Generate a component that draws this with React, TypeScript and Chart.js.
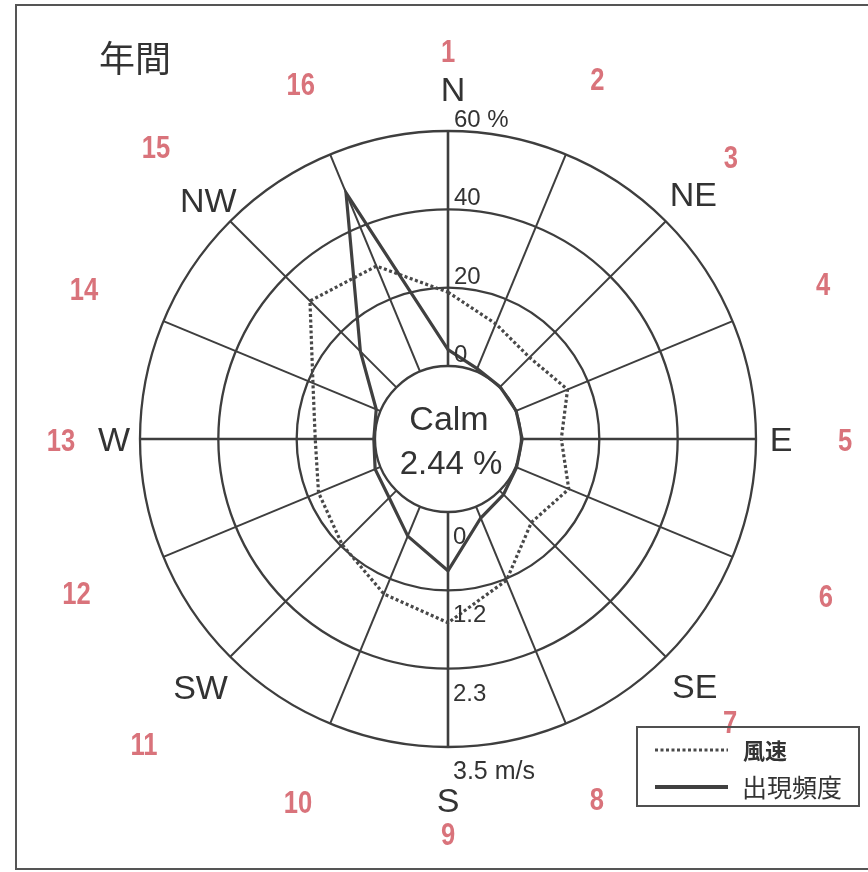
import React, { useEffect, useRef } from 'react';
import { Chart, registerables } from 'chart.js';

Chart.register(...registerables);

// ---- data ----
const directions = ['N', 'NNE', 'NE', 'ENE', 'E', 'ESE', 'SE', 'SSE', 'S', 'SSW', 'SW', 'WSW', 'W', 'WNW', 'NW', 'NNW'];
const directionNumbers = ['1', '2', '3', '4', '5', '6', '7', '8', '9', '10', '11', '12', '13', '14', '15', '16'];
const compassLabels = ['N', '', 'NE', '', 'E', '', 'SE', '', 'S', '', 'SW', '', 'W', '', 'NW', ''];
const windSpeed = [1.1, 0.77, 0.63, 0.84, 0.6, 0.86, 0.67, 1.19, 1.65, 1.41, 1.14, 1.0, 0.89, 1.09, 1.82, 1.7];
const frequency = [4.2, 0.8, 0.2, 0.2, 0.3, 0.3, 1.4, 3.2, 15.0, 8.2, 2.6, 1.5, 0.3, 1.2, 13.0, 49.4];
const freqTicks = [0, 20, 40, 60];
const freqTickLabels = ['0', '20', '40', '60 %'];
const speedTicks = [0, 1.1667, 2.3333, 3.5];
const speedTickLabels = ['0', '1.2', '2.3', '3.5 m/s'];
const calmLabel = 'Calm';
const calmValue = '2.44 %';
const titleText = '年間';
const legendLabels = ['風速', '出現頻度'];

// calm circle occupies this fraction of the radius
const CALM_RATIO = 73 / 308;
const freqMax = freqTicks[freqTicks.length - 1];
const speedMax = speedTicks[speedTicks.length - 1];
const freqMin = -freqMax * CALM_RATIO / (1 - CALM_RATIO);
const speedMin = -speedMax * CALM_RATIO / (1 - CALM_RATIO);

const SANS = "'Liberation Sans', Arial, sans-serif";
const CJK = "'Noto Sans CJK JP', 'Noto Sans CJK SC', sans-serif";
const INK = '#333333';
const GRID = '#3e3e3e';
const RED = '#d9737b';

const decorPlugin = {
  id: 'decor',
  beforeDatasetsDraw(chart: any) {
    const ctx = chart.ctx;
    const r = chart.scales.r;
    ctx.save();
    ctx.strokeStyle = GRID;
    for (let i = 0; i < directions.length; i++) {
      const a = r.getPointPositionForValue(i, 0);
      const b = r.getPointPositionForValue(i, freqMax);
      ctx.lineWidth = i % 4 === 0 ? 2.6 : 2;
      ctx.beginPath();
      ctx.moveTo(a.x, a.y);
      ctx.lineTo(b.x, b.y);
      ctx.stroke();
    }
    ctx.restore();
  },
  afterDraw(chart: any) {
    const ctx = chart.ctx;
    const r = chart.scales.r;
    const rs = chart.scales.rSpeed;
    const cx = r.xCenter;
    const cy = r.yCenter;
    ctx.save();

    const capText = (t: string, x: number, y: number, size: number, color: string, align: CanvasTextAlign = 'center', weight = '') => {
      ctx.font = `${weight} ${size}px ${SANS}`;
      ctx.fillStyle = color;
      ctx.textAlign = align;
      ctx.textBaseline = 'alphabetic';
      ctx.fillText(t, x, y + size * 0.36);
    };

    // frequency tick labels along N axis
    freqTicks.forEach((v, i) => {
      const p = r.getPointPositionForValue(0, v);
      ctx.font = `24px ${SANS}`;
      ctx.fillStyle = INK;
      ctx.textAlign = 'left';
      ctx.textBaseline = 'alphabetic';
      ctx.fillText(freqTickLabels[i], p.x + 6, p.y - 4);
    });
    // speed tick labels along S axis
    speedTicks.forEach((v, i) => {
      const p = rs.getPointPositionForValue(8, v);
      ctx.font = `${i === 3 ? 25 : 24}px ${SANS}`;
      ctx.fillStyle = INK;
      ctx.textAlign = 'left';
      ctx.textBaseline = 'alphabetic';
      ctx.fillText(speedTickLabels[i], p.x + 5, p.y + 32);
    });

    // compass labels
    const compassDist: Record<number, number> = { 0: 350, 2: 347, 4: 333, 6: 349, 8: 361, 10: 350, 12: 334, 14: 339 };
    compassLabels.forEach((t, i) => {
      if (!t) return;
      const p = r.getPointPosition(i, compassDist[i]);
      capText(t, p.x + (i === 0 ? 5 : 0), p.y, 34, INK);
    });

    // red direction numbers
    const numDist = [389, 390, 400, 406, 397, 409, 399, 389, 394, 392, 430, 402, 387, 394, 413, 385];
    directionNumbers.forEach((t, i) => {
      const p = r.getPointPosition(i, numDist[i]);
      ctx.save();
      ctx.translate(p.x, p.y);
      ctx.scale(0.8, 1);
      ctx.font = `bold 32px ${SANS}`;
      ctx.fillStyle = RED;
      ctx.textAlign = 'center';
      ctx.textBaseline = 'alphabetic';
      ctx.fillText(t, 0, 32 * 0.36);
      ctx.restore();
    });

    // calm text
    capText(calmLabel, cx + 1, cy - 21, 34, INK);
    capText(calmValue, cx + 3, cy + 23, 33, INK);

    // title
    ctx.font = `36px ${CJK}`;
    ctx.fillStyle = INK;
    ctx.textAlign = 'left';
    ctx.textBaseline = 'middle';
    ctx.fillText(titleText, 99, 58);

    // legend box
    ctx.strokeStyle = '#505050';
    ctx.lineWidth = 2;
    ctx.strokeRect(637, 727, 222, 79);
    ctx.strokeStyle = '#4a4a4a';
    ctx.lineWidth = 3;
    ctx.setLineDash([3, 2.5]);
    ctx.beginPath();
    ctx.moveTo(655, 750);
    ctx.lineTo(728, 750);
    ctx.stroke();
    ctx.setLineDash([]);
    ctx.strokeStyle = '#404040';
    ctx.lineWidth = 4;
    ctx.beginPath();
    ctx.moveTo(655, 787);
    ctx.lineTo(728, 787);
    ctx.stroke();
    ctx.fillStyle = INK;
    ctx.textBaseline = 'middle';
    ctx.font = `bold 22px ${CJK}`;
    ctx.fillText(legendLabels[0], 743, 751);
    ctx.font = `25px ${CJK}`;
    ctx.fillText(legendLabels[1], 742, 787);

    // outer frame
    ctx.strokeStyle = '#555555';
    ctx.lineWidth = 2;
    ctx.beginPath();
    ctx.moveTo(868, 5);
    ctx.lineTo(16, 5);
    ctx.lineTo(16, 869);
    ctx.lineTo(868, 869);
    ctx.stroke();

    ctx.restore();
  },
};

export default function App() {
  const canvasRef = useRef<HTMLCanvasElement | null>(null);

  useEffect(() => {
    const canvas = canvasRef.current;
    if (!canvas) return;
    const chart = new Chart(canvas, {
      type: 'radar',
      data: {
        labels: directions,
        datasets: [
          {
            label: legendLabels[1],
            data: frequency,
            rAxisID: 'r',
            borderColor: '#404040',
            borderWidth: 3.2,
            pointRadius: 0,
            fill: false,
            tension: 0,
          } as any,
          {
            label: legendLabels[0],
            data: windSpeed,
            rAxisID: 'rSpeed',
            borderColor: '#484848',
            borderWidth: 3.2,
            borderDash: [3, 2.5],
            pointRadius: 0,
            fill: false,
            tension: 0,
          } as any,
        ],
      },
      options: {
        animation: false,
        responsive: false,
        devicePixelRatio: 1,
        layout: { padding: { left: 140, right: 112, top: 131, bottom: 125 } },
        plugins: { legend: { display: false }, tooltip: { enabled: false } },
        scales: {
          r: {
            type: 'radialLinear',
            min: freqMin,
            max: freqMax,
            beginAtZero: false,
            afterBuildTicks: (scale: any) => {
              scale.ticks = freqTicks.map((v) => ({ value: v }));
            },
            ticks: { display: false },
            pointLabels: { display: false },
            angleLines: { display: false },
            grid: { circular: true, color: GRID, lineWidth: 2.3 },
          },
          rSpeed: {
            type: 'radialLinear',
            axis: 'r',
            min: speedMin,
            max: speedMax,
            beginAtZero: false,
            afterBuildTicks: (scale: any) => {
              scale.ticks = speedTicks.map((v) => ({ value: v }));
            },
            ticks: { display: false },
            pointLabels: { display: false },
            angleLines: { display: false },
            grid: { display: false },
          },
        } as any,
      },
      plugins: [decorPlugin],
    });
    return () => chart.destroy();
  }, []);

  return (
    <div style={{ position: 'absolute', left: 0, top: 0, width: 868, height: 872, background: '#fff' }}>
      <canvas ref={canvasRef} width={868} height={872} style={{ width: 868, height: 872, display: 'block' }} />
    </div>
  );
}
